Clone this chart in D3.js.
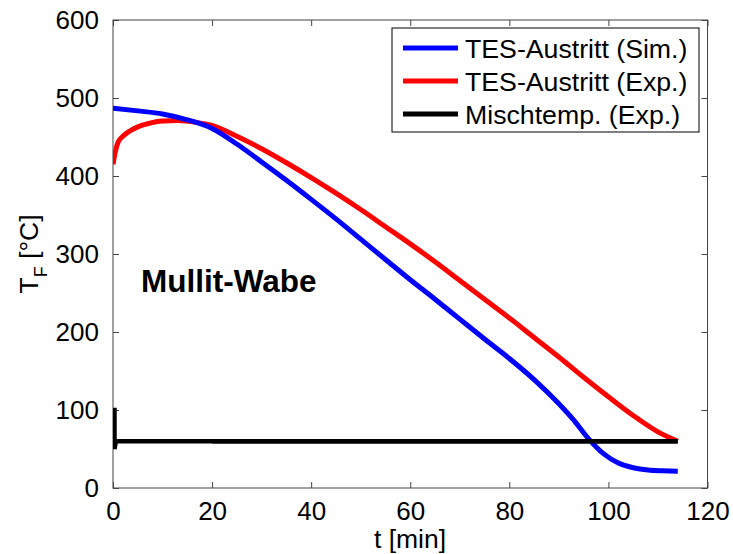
<!DOCTYPE html>
<html>
<head>
<meta charset="utf-8">
<script src="https://cdn.jsdelivr.net/npm/d3@7"></script>
<style>
html,body{margin:0;padding:0;background:#fff;}
svg{display:block;font-family:Arial,"Liberation Sans",sans-serif;}
</style>
</head>
<body>
<svg id="chart" width="733" height="554"></svg>
<script>
// ---- data ----
const simT   = [0, 5, 10, 15, 20, 25, 30, 35, 40, 45, 50, 55, 60, 65, 70, 75, 80, 85, 90, 93, 96, 99, 102, 105, 108, 111, 114];
const simV   = [487, 483.5, 479.5, 472, 461, 441, 418, 394.5, 370, 345, 319, 293, 267, 242, 216.5, 191, 166, 139, 108, 87, 63, 44, 32, 26, 23, 22, 21.5];
const expT   = [0, 0.5, 1, 2, 3, 5, 7, 10, 13, 17, 20, 25, 30, 35, 40, 45, 50, 55, 60, 65, 70, 75, 80, 85, 90, 95, 100, 105, 110, 114];
const expV   = [415, 432, 443, 451, 456, 463, 467, 470.5, 471, 468.5, 465, 451, 435, 417, 398, 378, 357, 335, 313, 290, 266, 242, 218, 193, 168, 142, 117, 93, 72, 60];
const mixT   = [0.3, 0.3, 0.6, 20, 40, 60, 80, 100, 114];
const mixV   = [103, 50, 60, 60, 60, 60, 60, 60, 60];
const xTicks = [0, 20, 40, 60, 80, 100, 120];
const yTicks = [0, 100, 200, 300, 400, 500, 600];
const seriesNames  = ["TES-Austritt (Sim.)", "TES-Austritt (Exp.)", "Mischtemp. (Exp.)"];
const seriesColors = ["#0000ff", "#ff0000", "#000000"];

// ---- layout ----
const L = 113, R = 707.5, T = 20, B = 488;
const svg = d3.select("#chart");
const x = d3.scaleLinear().domain([0, 120]).range([L, R]);
const y = d3.scaleLinear().domain([0, 600]).range([B, T]);

const axisColor = "#444";
const fs = 26;

// box
svg.append("rect").attr("x", L).attr("y", T).attr("width", R - L).attr("height", B - T)
  .attr("fill", "none").attr("stroke", axisColor).attr("stroke-width", 1);

function styleAxis(g) {
  g.select(".domain").remove();
  g.selectAll(".tick line").attr("stroke", axisColor);
  g.selectAll(".tick text").attr("fill", "#000").attr("font-size", fs)
    .attr("font-family", "Arial, 'Liberation Sans', sans-serif");
}
svg.append("g").attr("transform", `translate(0,${B})`)
  .call(d3.axisBottom(x).tickValues(xTicks).tickSizeInner(-6).tickSizeOuter(0).tickPadding(14))
  .call(styleAxis);
svg.append("g").attr("transform", `translate(0,${T})`)
  .call(d3.axisTop(x).tickValues(xTicks).tickSizeInner(-6).tickSizeOuter(0).tickFormat(""))
  .call(styleAxis);
svg.append("g").attr("transform", `translate(${L},0)`)
  .call(d3.axisLeft(y).tickValues(yTicks).tickSizeInner(-6).tickSizeOuter(0).tickPadding(14))
  .call(styleAxis);
svg.append("g").attr("transform", `translate(${R},0)`)
  .call(d3.axisRight(y).tickValues(yTicks).tickSizeInner(-6).tickSizeOuter(0).tickFormat(""))
  .call(styleAxis);

// ---- lines ----
svg.append("clipPath").attr("id", "plotclip").append("rect")
  .attr("x", L).attr("y", T).attr("width", R - L).attr("height", B - T);
const plot = svg.append("g").attr("clip-path", "url(#plotclip)");

function lineOf(ts, vs, curve) {
  return d3.line().x((d, i) => x(ts[i])).y((d, i) => y(vs[i])).curve(curve)(vs);
}
plot.append("path").attr("d", lineOf(mixT, mixV, d3.curveLinear))
  .attr("fill", "none").attr("stroke", seriesColors[2]).attr("stroke-width", 4.5);
plot.append("path").attr("d", lineOf(expT, expV, d3.curveMonotoneX))
  .attr("fill", "none").attr("stroke", seriesColors[1]).attr("stroke-width", 5).attr("stroke-linejoin", "round");
plot.append("path").attr("d", lineOf(simT, simV, d3.curveMonotoneX))
  .attr("fill", "none").attr("stroke", seriesColors[0]).attr("stroke-width", 5).attr("stroke-linejoin", "round");
plot.append("path").attr("d", lineOf(mixT.slice(3), mixV.slice(3), d3.curveLinear))
  .attr("fill", "none").attr("stroke", seriesColors[2]).attr("stroke-width", 4.5);

// ---- annotation ----
svg.append("text").attr("x", 141).attr("y", 292).attr("font-size", 31.5).attr("font-weight", "bold")
  .attr("fill", "#000").text("Mullit-Wabe");

// ---- axis labels ----
svg.append("text").attr("x", 410).attr("y", 548).attr("text-anchor", "middle")
  .attr("font-size", 26.5).attr("fill", "#000").text("t [min]");

const yl = svg.append("text").attr("transform", "translate(38,254) rotate(-90)")
  .attr("text-anchor", "middle").attr("font-size", 26.5).attr("fill", "#000");
yl.append("tspan").text("T");
yl.append("tspan").attr("font-size", 18).attr("dy", 9).text("F");
yl.append("tspan").attr("dy", -9).text(" [°C]");

// ---- legend ----
const lg = svg.append("g");
lg.append("rect").attr("x", 392).attr("y", 28).attr("width", 307).attr("height", 104)
  .attr("fill", "#fff").attr("stroke", "#000").attr("stroke-width", 1);
seriesNames.forEach((name, i) => {
  const cy = 48 + i * 33;
  lg.append("line").attr("x1", 403).attr("x2", 458).attr("y1", cy).attr("y2", cy)
    .attr("stroke", seriesColors[i]).attr("stroke-width", 5);
  lg.append("text").attr("x", 465).attr("y", cy + 10).attr("font-size", 26.7)
    .attr("fill", "#000").text(name);
});
</script>
</body>
</html>
